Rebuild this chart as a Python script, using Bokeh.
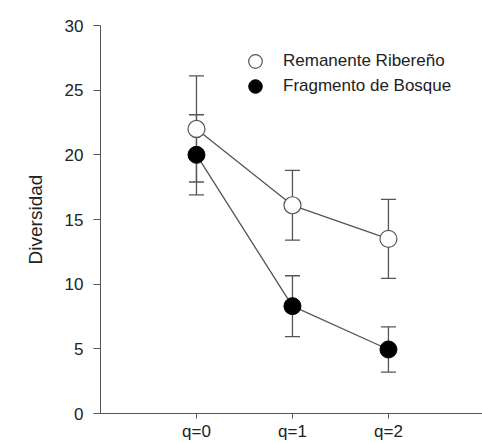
from bokeh.plotting import figure
from bokeh.models import ColumnDataSource, Whisker, TeeHead, Legend, LegendItem, FixedTicker
from bokeh.embed import file_html
from bokeh.resources import INLINE

categories = ["q=0", "q=1", "q=2"]
x_pos = [0, 1, 2]
remanente = [22.0, 16.1, 13.5]
remanente_err = [4.1, 2.7, 3.05]
fragmento = [20.0, 8.3, 4.95]
fragmento_err = [3.1, 2.35, 1.75]
series_labels = ["Remanente Ribereño", "Fragmento de Bosque"]

FONT = "Liberation Sans"
GRAY = "#555555"
TXT = "#222222"

p = figure(width=482, height=444, x_range=(-1, 2.98), y_range=(0, 30),
           output_backend="svg", toolbar_location=None,
           min_border_left=100, min_border_right=0, min_border_top=25, min_border_bottom=31)
p.outline_line_color = None
p.xgrid.visible = False
p.ygrid.visible = False
p.background_fill_color = "white"
p.border_fill_color = "white"

src_r = ColumnDataSource(dict(x=x_pos, y=remanente,
                              lo=[v - e for v, e in zip(remanente, remanente_err)],
                              hi=[v + e for v, e in zip(remanente, remanente_err)]))
src_f = ColumnDataSource(dict(x=x_pos, y=fragmento,
                              lo=[v - e for v, e in zip(fragmento, fragmento_err)],
                              hi=[v + e for v, e in zip(fragmento, fragmento_err)]))

for src in (src_r, src_f):
    w = Whisker(source=src, base="x", lower="lo", upper="hi", dimension="height",
                line_color=GRAY, line_width=1.3,
                upper_head=TeeHead(size=15, line_color=GRAY, line_width=1.3),
                lower_head=TeeHead(size=15, line_color=GRAY, line_width=1.3))
    p.add_layout(w)

p.line("x", "y", source=src_r, line_color=GRAY, line_width=1.3)
p.line("x", "y", source=src_f, line_color=GRAY, line_width=1.3)
r_r = p.scatter("x", "y", source=src_r, size=17, fill_color="white", line_color=GRAY, line_width=1.2)
r_f = p.scatter("x", "y", source=src_f, size=17, fill_color="black", line_color="black")

for label, rend, vy in zip(series_labels, [r_r, r_f], [335, 310]):
    leg = Legend(items=[LegendItem(label=label, renderers=[rend])],
                 location=(138, vy), orientation="vertical",
                 glyph_width=34, glyph_height=34, spacing=0, padding=0, margin=0,
                 label_standoff=11, label_text_font=FONT, label_text_font_size="17px",
                 label_text_color=TXT, label_height=20,
                 border_line_color=None, background_fill_alpha=0)
    p.add_layout(leg)

for ax in (p.xaxis, p.yaxis):
    ax.axis_line_color = GRAY
    ax.major_tick_line_color = GRAY
    ax.minor_tick_line_color = None
    ax.major_tick_in = 0
    ax.major_label_text_font = FONT
    ax.major_label_text_font_size = "17px"
    ax.major_label_text_color = TXT

p.yaxis.ticker = FixedTicker(ticks=[0, 5, 10, 15, 20, 25, 30])
p.yaxis.major_tick_out = 7
p.yaxis.major_label_standoff = 10
p.yaxis.axis_label = "Diversidad"
p.yaxis.axis_label_text_font = FONT
p.yaxis.axis_label_text_font_size = "19px"
p.yaxis.axis_label_text_font_style = "normal"
p.yaxis.axis_label_text_color = TXT
p.yaxis.axis_label_standoff = 16

p.xaxis.ticker = FixedTicker(ticks=x_pos)
p.xaxis.major_label_overrides = {x: c for x, c in zip(x_pos, categories)}
p.xaxis.major_tick_out = 5
p.xaxis.major_label_standoff = 3

open("out.html", "w").write(file_html(p, INLINE))
